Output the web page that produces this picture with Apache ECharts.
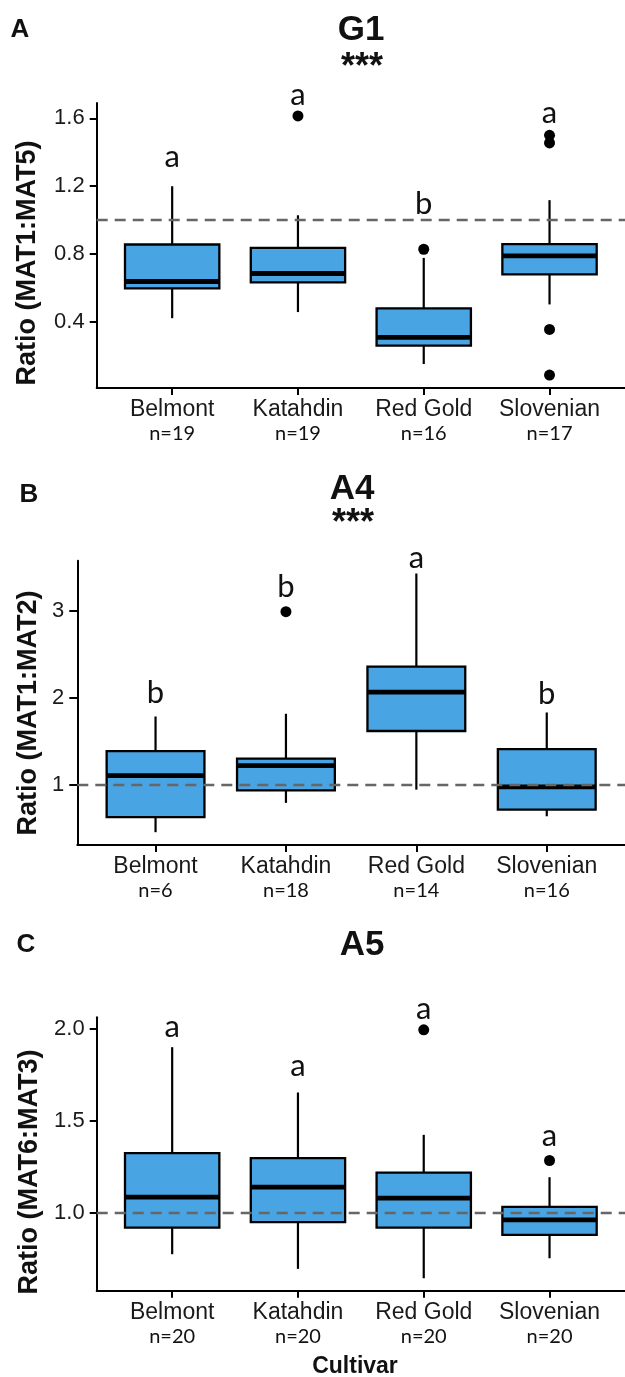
<!DOCTYPE html>
<html><head><meta charset="utf-8">
<script src="https://cdn.jsdelivr.net/npm/echarts@6/dist/echarts.min.js"></script>
<style>html,body{margin:0;padding:0;background:#fff}#c{width:625px;height:1377px}</style>
</head><body><div id="c"></div>
<script>
// ---------- data ----------
const categories = ['Belmont', 'Katahdin', 'Red Gold', 'Slovenian'];
const positions = [1, 2, 3, 4];

// Panel A: G1, Ratio (MAT1:MAT5)   [min, Q1, median, Q3, max]
const nA = [19, 19, 16, 17];
const boxA = [
  [0.423, 0.598, 0.639, 0.857, 1.200],
  [0.459, 0.634, 0.686, 0.837, 1.029],
  [0.153, 0.261, 0.310, 0.481, 0.778],
  [0.504, 0.681, 0.790, 0.859, 1.118]
];
const outliersA = [[2, 1.614], [3, 0.829], [4, 1.500], [4, 1.455], [4, 0.357], [4, 0.088]];
const lettersA = ['a', 'a', 'b', 'a'];
const letterYA = [1.371, 1.735, 1.094, 1.632];
const ticksA = [0.4, 0.8, 1.2, 1.6];

// Panel B: A4, Ratio (MAT1:MAT2)
const nB = [6, 18, 14, 16];
const boxB = [
  [0.457, 0.629, 1.107, 1.389, 1.786],
  [0.794, 0.938, 1.221, 1.301, 1.817],
  [0.946, 1.619, 2.065, 2.359, 3.428],
  [0.640, 0.717, 0.977, 1.412, 1.832]
];
const outliersB = [[2, 2.99]];
const lettersB = ['b', 'b', 'a', 'b'];
const letterYB = [2.054, 3.275, 3.604, 2.044];
const ticksB = [1, 2, 3];

// Panel C: A5, Ratio (MAT6:MAT3)
const nC = [20, 20, 20, 20];
const boxC = [
  [0.773, 0.918, 1.084, 1.324, 1.902],
  [0.693, 0.948, 1.139, 1.297, 1.655],
  [0.642, 0.918, 1.079, 1.218, 1.424],
  [0.751, 0.878, 0.960, 1.031, 1.193]
];
const outliersC = [[3, 1.997], [4, 1.284]];
const lettersC = ['a', 'a', 'a', 'a'];
const letterYC = [2.014, 1.797, 2.112, 1.417];
const ticksC = [1.0, 1.5, 2.0];

const refLine = 1;

// ---------- styles ----------
const SANS = "'Liberation Sans', Arial, sans-serif";
const HUM = "Lato, 'Open Sans', sans-serif";
const BLUE = '#48A4E2';

const panels = [
  { n: nA, box: boxA, out: outliersA, letters: lettersA, letterY: letterYA, ticks: ticksA, dec: 1,
    grid: { left: 96.7, top: 103, width: 532, height: 285 }, ymin: 0.012, ymax: 1.69, tickLen: 7, margin: 12 },
  { n: nB, box: boxB, out: outliersB, letters: lettersB, letterY: letterYB, ticks: ticksB, dec: 0,
    grid: { left: 77.3, top: 560.7, width: 552, height: 284.3 }, ymin: 0.31, ymax: 3.575, tickLen: 8, margin: 13 },
  { n: nC, box: boxC, out: outliersC, letters: lettersC, letterY: letterYC, ticks: ticksC, dec: 1,
    grid: { left: 96.7, top: 1017.3, width: 532, height: 273.4 }, ymin: 0.574, ymax: 2.065, tickLen: 7, margin: 12 }
];

const grids = [], xAxes = [], yAxes = [], series = [];
panels.forEach((p, gi) => {
  grids.push(Object.assign({ containLabel: false }, p.grid));
  xAxes.push({
    gridIndex: gi, type: 'value', min: 0.4, max: 4.6,
    axisLine: { show: true, onZero: false, lineStyle: { color: '#000', width: 2 } },
    axisTick: { show: true, length: 7, lineStyle: { color: '#000', width: 2 }, customValues: positions },
    splitLine: { show: false },
    axisLabel: {
      customValues: positions, margin: 10,
      formatter: v => {
        const i = Math.round(v) - 1;
        return '{c|' + categories[i] + '}\n{n|n=' + p.n[i] + '}';
      },
      rich: {
        c: { fontFamily: SANS, fontSize: 23, lineHeight: 24, color: '#1a1a1a' },
        n: { fontFamily: HUM, fontSize: 20, lineHeight: 24, color: '#111' }
      }
    }
  });
  yAxes.push({
    gridIndex: gi, type: 'value', min: p.ymin, max: p.ymax,
    axisLine: { show: true, onZero: false, lineStyle: { color: '#000', width: 2 } },
    axisTick: { show: true, length: p.tickLen, lineStyle: { color: '#000', width: 2 }, customValues: p.ticks },
    splitLine: { show: false },
    axisLabel: {
      customValues: p.ticks, margin: p.margin,
      fontFamily: SANS, fontSize: 22, color: '#1a1a1a',
      formatter: v => Number(v).toFixed(p.dec)
    }
  });
  const boxData = p.box.map((b, i) => [positions[i]].concat(b));
  series.push({
    type: 'custom', xAxisIndex: gi, yAxisIndex: gi, z: 2,
    encode: { x: 0, y: [1, 2, 3, 4, 5] },
    data: boxData,
    renderItem: (params, api) => {
      const x = api.value(0);
      const pMin = api.coord([x, api.value(1)]);
      const pQ1 = api.coord([x, api.value(2)]);
      const pMed = api.coord([x, api.value(3)]);
      const pQ3 = api.coord([x, api.value(4)]);
      const pMax = api.coord([x, api.value(5)]);
      const half = api.size([0.75, 0])[0] / 2;
      const cx = pMed[0];
      return {
        type: 'group', children: [
          { type: 'line', shape: { x1: cx, y1: pMin[1], x2: cx, y2: pQ1[1] }, style: { stroke: '#000', lineWidth: 2.2 } },
          { type: 'line', shape: { x1: cx, y1: pQ3[1], x2: cx, y2: pMax[1] }, style: { stroke: '#000', lineWidth: 2.2 } },
          { type: 'rect', shape: { x: cx - half, y: pQ3[1], width: 2 * half, height: pQ1[1] - pQ3[1] },
            style: { fill: BLUE, stroke: '#000', lineWidth: 2.3 } },
          { type: 'line', shape: { x1: cx - half, y1: pMed[1], x2: cx + half, y2: pMed[1] },
            style: { stroke: '#000', lineWidth: 4.8 } }
        ]
      };
    },
    markLine: {
      silent: true, symbol: ['none', 'none'], z: 5,
      label: { show: false },
      lineStyle: { type: [11, 7], color: '#666', width: 2.3, opacity: 1 },
      data: [{ yAxis: refLine }]
    }
  });
  series.push({
    type: 'scatter', xAxisIndex: gi, yAxisIndex: gi, z: 3,
    symbol: 'circle', symbolSize: 11, itemStyle: { color: '#000', opacity: 1 },
    data: p.out, silent: true
  });
  series.push({
    type: 'custom', xAxisIndex: gi, yAxisIndex: gi, z: 4, clip: false,
    data: p.letterY.map((y, i) => [positions[i], y]),
    renderItem: (params, api) => {
      const pt = api.coord([api.value(0), api.value(1)]);
      return { type: 'text', x: pt[0], y: pt[1],
        style: { text: p.letters[params.dataIndex], fontFamily: HUM, fontSize: 31, fill: '#111',
          textAlign: 'center', textVerticalAlign: 'middle' } };
    }
  });
});

function txt(x, y, text, size, bold, rot) {
  return { type: 'text', x: x, y: y, rotation: rot || 0, silent: true,
    style: { text: text, fontFamily: SANS, fontSize: size, fontWeight: bold ? 'bold' : 'normal', fill: '#111',
      textAlign: 'center', textVerticalAlign: 'middle' } };
}

const graphics = [
  txt(20, 30, 'A', 26, true), txt(29, 495, 'B', 26, true), txt(26, 945, 'C', 26, true),
  txt(361, 30, 'G1', 35, true), txt(362, 68, '***', 36, true),
  txt(352, 489, 'A4', 35, true), txt(353, 524.5, '***', 36, true),
  txt(362, 945, 'A5', 35, true),
  txt(28, 263, 'Ratio (MAT1:MAT5)', 27, true, Math.PI / 2),
  txt(29, 713, 'Ratio (MAT1:MAT2)', 27, true, Math.PI / 2),
  txt(30, 1172, 'Ratio (MAT6:MAT3)', 27, true, Math.PI / 2),
  txt(355, 1367, 'Cultivar', 23, true)
];

const chart = echarts.init(document.getElementById('c'), null, { renderer: 'canvas' });
chart.setOption({
  backgroundColor: '#fff',
  animation: false,
  grid: grids, xAxis: xAxes, yAxis: yAxes, series: series,
  graphic: graphics
});
</script></body></html>
